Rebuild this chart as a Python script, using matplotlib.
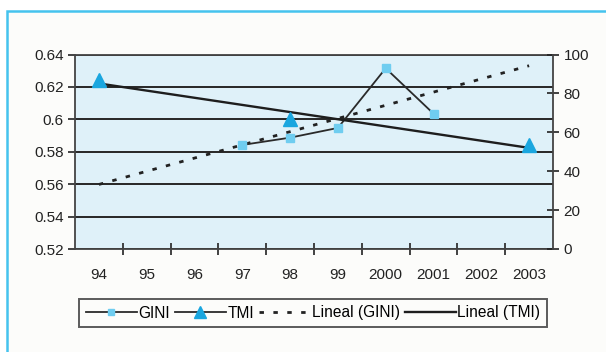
import numpy as np
import matplotlib.pyplot as plt
from matplotlib.patches import Rectangle
from matplotlib.ticker import FixedLocator, NullFormatter

plt.rcParams['font.family'] = ['Liberation Sans', 'DejaVu Sans']

years = ['94', '95', '96', '97', '98', '99', '2000', '2001', '2002', '2003']
gini = [np.nan, np.nan, np.nan, 0.5842, 0.5887, 0.5947, 0.6315, 0.6035, np.nan, np.nan]
tmi = [87, np.nan, np.nan, np.nan, 67, np.nan, np.nan, np.nan, np.nan, 53.5]

x = np.arange(len(years))
gini = np.array(gini)
tmi = np.array(tmi)

# linear trendlines over the whole category range
ok = ~np.isnan(gini)
gini_fit = np.polyval(np.polyfit(x[ok], gini[ok], 1), x)
ok = ~np.isnan(tmi)
tmi_fit = np.polyval(np.polyfit(x[ok], tmi[ok], 1), x)

fig = plt.figure(figsize=(6.06, 3.52), dpi=100)
fig.patch.set_facecolor('white')
fig.patches.append(Rectangle((7 / 606, -0.1), 1.2, 1 - 11 / 352 + 0.1,
                             transform=fig.transFigure, facecolor='#fcfcfa',
                             edgecolor='#45c3ee', linewidth=1.8, zorder=-5))

ax = fig.add_axes([75 / 606, 1 - 249 / 352, 478 / 606, 194.5 / 352])
ax.set_facecolor('#dff1f9')
ax2 = ax.twinx()

blue = '#1aa6df'
light = '#6fcdf0'

ax.plot(x, gini, color='#2a2a2a', lw=1.3, marker='s', markersize=5.5,
        markerfacecolor=light, markeredgecolor=light, zorder=4, label='GINI')
ax.plot(x, gini_fit, color='#222222', lw=2, linestyle=(0, (1.6, 3.4)),
        zorder=3, label='Lineal (GINI)')
ax2.plot(x, tmi, color='#2a2a2a', lw=1.3, marker='^', markersize=10,
         markerfacecolor=blue, markeredgecolor=blue, zorder=4, label='TMI')
ax2.plot(x, tmi_fit, color='#1e1e1e', lw=1.7, zorder=3, label='Lineal (TMI)')

ax.set_xlim(-0.5, len(years) - 0.5)
ax.set_ylim(0.52, 0.64)
ax.set_yticks(np.arange(0.52, 0.641, 0.02))
ax.set_yticklabels(['0.52', '0.54', '0.56', '0.58', '0.6', '0.62', '0.64'])
ax.yaxis.grid(True, color='#262626', lw=1.4)
ax.set_axisbelow(True)
ax2.set_ylim(0, 100)
ax2.set_yticks(np.arange(0, 101, 20))

ax.set_xticks(x)
ax.set_xticklabels(years)
ax.xaxis.set_minor_locator(FixedLocator(np.arange(0.5, len(years) - 0.5, 1)))
ax.xaxis.set_minor_formatter(NullFormatter())
ax.tick_params(axis='x', which='major', length=0, pad=14, labelsize=11, colors='#222222')
ax.tick_params(axis='x', which='minor', direction='inout', length=9, width=1.3, color='#333333')
ax.tick_params(axis='y', direction='out', length=5, width=1.2, pad=3, labelsize=11,
               colors='#222222')
ax2.tick_params(axis='y', direction='inout', length=9, width=1.2, pad=3, labelsize=11,
                colors='#222222')

for a in (ax, ax2):
    for side in ('top', 'right'):
        a.spines[side].set_visible(False)
    a.spines['left'].set_color('#444444')
    a.spines['bottom'].set_color('#444444')
    a.spines['left'].set_linewidth(1.3)
    a.spines['bottom'].set_linewidth(1.3)
ax2.spines['right'].set_visible(True)
ax2.spines['right'].set_color('#444444')
ax2.spines['right'].set_linewidth(1.3)
ax2.spines['left'].set_visible(False)
ax2.spines['bottom'].set_visible(False)
ax.plot([0, 1], [1, 1], transform=ax.transAxes, color='#444444', lw=1.3, clip_on=False)

h1, l1 = ax.get_legend_handles_labels()
h2, l2 = ax2.get_legend_handles_labels()
handles = [h1[0], h2[0], h1[1], h2[1]]
labels = [l1[0], l2[0], l1[1], l2[1]]
leg = fig.legend(handles, labels, loc='center', ncol=4,
                 bbox_to_anchor=(313 / 606, 1 - 313 / 352),
                 fontsize=11.2, frameon=True, fancybox=False, handlelength=3.3,
                 handletextpad=0.1, columnspacing=0.3, borderpad=0.4,
                 markerscale=0.8)
leg.get_frame().set_edgecolor('#333333')
leg.get_frame().set_linewidth(1.4)
leg.get_frame().set_facecolor('#fcfcfa')

fig.savefig('out.png', dpi=100)
